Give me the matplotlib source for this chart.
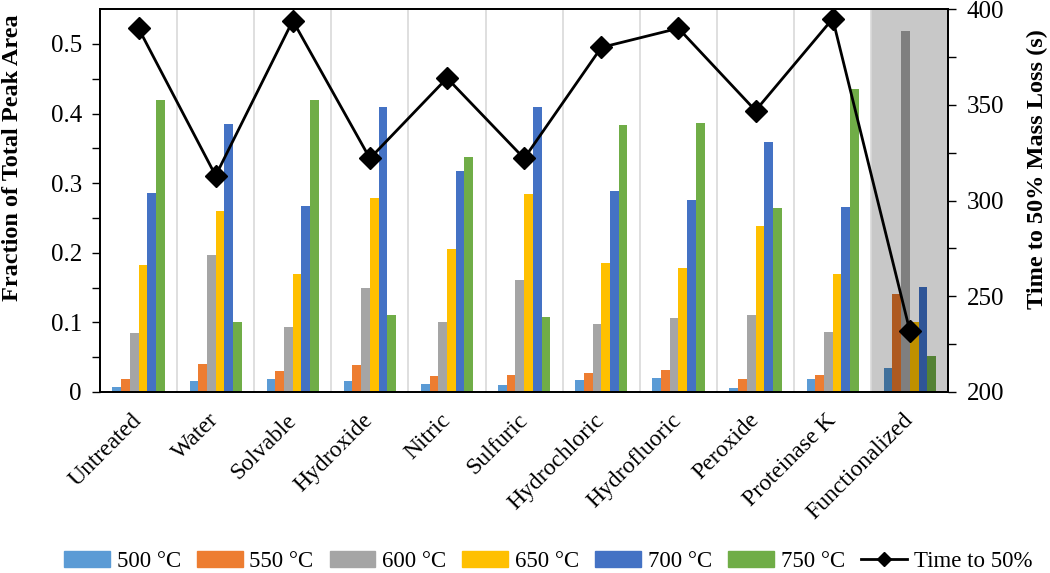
import numpy as np
import matplotlib.pyplot as plt
from matplotlib.lines import Line2D
from matplotlib.patches import Patch

plt.rcParams['font.family'] = ['Liberation Serif', 'DejaVu Serif']

treatments = ["Untreated", "Water", "Solvable", "Hydroxide", "Nitric", "Sulfuric",
              "Hydrochloric", "Hydrofluoric", "Peroxide", "Proteinase K", "Functionalized"]
temps = ["500 °C", "550 °C", "600 °C", "650 °C", "700 °C", "750 °C"]

t500 = [0.007, 0.015, 0.019, 0.015, 0.012, 0.010, 0.017, 0.020, 0.006, 0.018, 0.035]
t550 = [0.019, 0.040, 0.030, 0.038, 0.023, 0.025, 0.027, 0.031, 0.018, 0.024, 0.141]
t600 = [0.084, 0.197, 0.094, 0.150, 0.100, 0.161, 0.097, 0.106, 0.111, 0.086, 0.519]
t650 = [0.183, 0.260, 0.170, 0.278, 0.206, 0.285, 0.185, 0.178, 0.239, 0.170, 0.100]
t700 = [0.286, 0.385, 0.267, 0.409, 0.318, 0.410, 0.289, 0.276, 0.359, 0.266, 0.151]
t750 = [0.420, 0.101, 0.420, 0.110, 0.338, 0.108, 0.383, 0.387, 0.265, 0.435, 0.051]
time50 = [390, 313, 394, 322, 364, 322, 380, 390, 347, 395, 232]

series = [t500, t550, t600, t650, t700, t750]
colors = ["#5b9bd5", "#ed7d31", "#a5a5a5", "#ffc000", "#4472c4", "#70ad47"]
dark = ["#41719c", "#ae5a21", "#7f7f7f", "#bf9000", "#2f5597", "#548235"]

fig = plt.figure(figsize=(10.5, 5.73), dpi=100)
ax = fig.add_axes([0.0952, 0.316, 0.808, 0.668])
ax2 = ax.twinx()

x = np.arange(len(treatments))
w = 0.113
ax.axvspan(9.5, 10.5, color="#c8c8c8", zorder=0, lw=0)
for b in np.arange(0.5, 10.5, 1.0):
    ax.axvline(b, color="#d9d9d9", lw=1.2, zorder=0.5)

for i, vals in enumerate(series):
    off = (i - 2.5) * w
    cols = [colors[i]] * (len(treatments) - 1) + [dark[i]]
    ax.bar(x + off, vals, w, color=cols, zorder=2)

ax2.plot(x, time50, color="black", lw=2, marker="D", ms=11, zorder=5)

ax.set_xlim(-0.5, 10.5)
ax.set_ylim(0, 0.55)
ax.set_yticks([0, 0.1, 0.2, 0.3, 0.4, 0.5])
ax.set_yticklabels(["0", "0.1", "0.2", "0.3", "0.4", "0.5"])
ax.set_yticks(np.arange(0, 0.55, 0.05), minor=True)
ax2.set_ylim(200, 400)
ax2.set_yticks([200, 250, 300, 350, 400])
ax2.set_yticks(np.arange(200, 401, 25), minor=True)

ax.set_xticks(x)
ax.set_xticklabels(treatments, rotation=45, ha="right", va="center",
                   rotation_mode="anchor", fontsize=17)
ax.tick_params(axis="x", length=0, pad=18)
ax.tick_params(axis="y", which="both", labelsize=18, length=6, direction="out", width=1, pad=7)
ax2.tick_params(axis="y", which="both", labelsize=18, length=6, direction="out", width=1, pad=7)

for a in (ax, ax2):
    for s in a.spines.values():
        s.set_color("black")
        s.set_linewidth(1.3)

ax.set_ylabel("Fraction of Total Peak Area", fontsize=17.5, fontweight="bold")
ax2.set_ylabel("Time to 50% Mass Loss (s)", fontsize=17.5, fontweight="bold")
ax.yaxis.set_label_coords(-0.091, 0.612)
ax2.yaxis.set_label_coords(1.093, 0.582)

handles = [Patch(color=c) for c in colors]
handles.append(Line2D([], [], color="black", lw=2, marker="D", ms=7))
fig.legend(handles, temps + ["Time to 50%"], loc="center", bbox_to_anchor=(0.522, 0.02),
           ncol=7, frameon=False, fontsize=16.5, handlelength=2.0, handletextpad=0.3,
           columnspacing=0.7)

fig.savefig("out.png", dpi=100)
